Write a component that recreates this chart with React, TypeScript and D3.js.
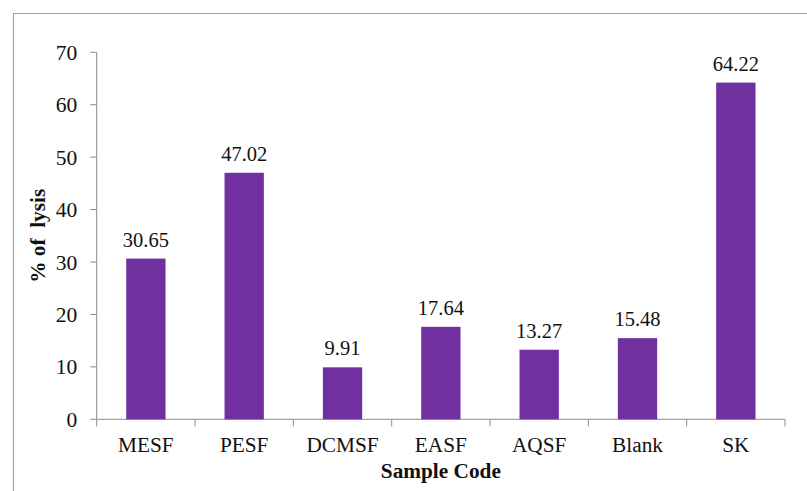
import React from "react";
import * as d3 from "d3";

const categories = ["MESF", "PESF", "DCMSF", "EASF", "AQSF", "Blank", "SK"];
const lysisValues = [30.65, 47.02, 9.91, 17.64, 13.27, 15.48, 64.22];
const yTicks = [0, 10, 20, 30, 40, 50, 60, 70];

const W = 807;
const H = 491;
const plot = { left: 96.7, right: 785, top: 52.3, bottom: 419.3 };
const FONT = "'Liberation Serif', 'Times New Roman', serif";
const BAR = "#7030A0";
const AXIS = "#8c8c8c";
const TEXT = "#111";

export default function App() {
  const x = d3
    .scaleBand<string>()
    .domain(categories)
    .range([plot.left, plot.right])
    .paddingInner(0.6)
    .paddingOuter(0.3);
  const band = (plot.right - plot.left) / categories.length;
  const y = d3.scaleLinear().domain([0, 70]).range([plot.bottom, plot.top]);

  return (
    <svg
      width={W}
      height={H}
      style={{ position: "fixed", left: 0, top: 0, background: "#fff" }}
      fontFamily={FONT}
    >
      <rect width={W} height={H} fill="#fff" />
      {/* chart frame */}
      <path d={`M13.5,${H + 2} V13.5 H${W + 2}`} fill="none" stroke="#a0a0a0" strokeWidth={1.2} />

      {/* y axis */}
      <line x1={plot.left} x2={plot.left} y1={plot.top} y2={plot.bottom} stroke={AXIS} />
      {yTicks.map((t) => (
        <g key={t}>
          <line x1={plot.left - 6.5} x2={plot.left} y1={y(t)} y2={y(t)} stroke={AXIS} />
          <text x={plot.left - 19.4} y={y(t)} dy="0.35em" textAnchor="end" fontSize={21.5} fill={TEXT}>
            {t}
          </text>
        </g>
      ))}

      {/* x axis */}
      <line x1={plot.left} x2={plot.right} y1={plot.bottom} y2={plot.bottom} stroke={AXIS} />
      {d3.range(categories.length + 1).map((i) => (
        <line
          key={i}
          x1={plot.left + i * band}
          x2={plot.left + i * band}
          y1={plot.bottom}
          y2={plot.bottom + 7}
          stroke={AXIS}
        />
      ))}
      {categories.map((c) => (
        <text
          key={c}
          x={(x(c) ?? 0) + x.bandwidth() / 2}
          y={451.5}
          textAnchor="middle"
          fontSize={21.3}
          fill={TEXT}
        >
          {c}
        </text>
      ))}

      {/* bars and value labels */}
      {categories.map((c, i) => {
        const v = lysisValues[i];
        const bx = x(c) ?? 0;
        return (
          <g key={c}>
            <rect x={bx} y={y(v)} width={x.bandwidth()} height={plot.bottom - y(v)} fill={BAR} />
            <text
              x={bx + x.bandwidth() / 2}
              y={y(v) - 12}
              textAnchor="middle"
              fontSize={20.5}
              fill={TEXT}
            >
              {v.toFixed(2)}
            </text>
          </g>
        );
      })}

      {/* axis titles */}
      <text
        x={(plot.left + plot.right) / 2}
        y={478}
        textAnchor="middle"
        fontSize={21.3}
        fontWeight="bold"
        fill={TEXT}
      >
        Sample Code
      </text>
      <text
        transform={`translate(45,${(plot.top + plot.bottom) / 2}) rotate(-90)`}
        textAnchor="middle"
        fontSize={21.3}
        fontWeight="bold"
        fill={TEXT}
        style={{ whiteSpace: "pre" }}
      >
        {"% of  lysis"}
      </text>
    </svg>
  );
}
